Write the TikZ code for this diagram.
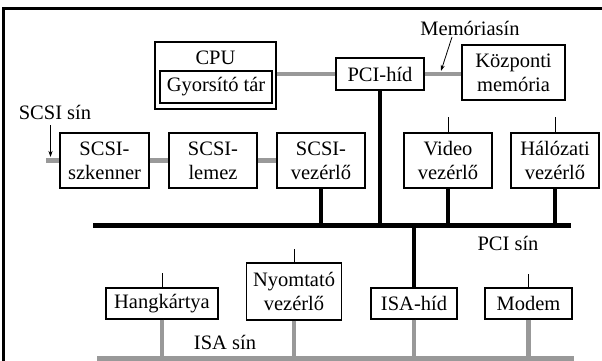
\documentclass[tikz,border=0pt]{standalone}
\usepackage{fontspec}
\setmainfont{Liberation Serif}
\usetikzlibrary{arrows.meta}
\begin{document}
\begin{tikzpicture}[x=1pt,y=-1pt,
  box/.style={draw, line width=1.1pt, inner sep=0pt, align=center, font=\fontsize{20.5}{24}\selectfont},
  lbl/.style={inner sep=0pt, font=\fontsize{20.5}{24}\selectfont},
  greybus/.style={line width=4.5pt, draw=black!40},
  blackbus/.style={line width=5pt},
  blackstub/.style={line width=4.5pt},
  stub/.style={line width=1pt},
  pointer/.style={line width=0.8pt, -{Stealth[length=6pt,width=4pt]}}]
\useasboundingbox (0,0) rectangle (602,361);
% frame
\draw[line width=3pt] (3.5,361) -- (3.5,8.5) -- (602,8.5);
% top row
\node[box, minimum width=121pt, minimum height=67pt] (cpu) at (215.5,75.5) {};
\node[lbl] (cpulbl) at (215.5,58) {CPU};
\node[box, minimum width=112pt, minimum height=32pt] (cache) at (216,87) {Gyorsító tár};
\node[box, minimum width=88pt, minimum height=32pt] (pcihid) at (380,74) {PCI-híd};
\node[box, minimum width=103pt, minimum height=55pt] (mem) at (513.5,72.5) {Központi\\memória};
\node[lbl] (memsin) at (470,28) {Memóriasín};
% second row
\node[box, minimum width=89pt, minimum height=55pt] (scsisz) at (104.5,160.5) {SCSI-\\szkenner};
\node[box, minimum width=88pt, minimum height=55pt] (scsil) at (213,160.5) {SCSI-\\lemez};
\node[box, minimum width=88pt, minimum height=55pt] (scsiv) at (321,160.5) {SCSI-\\vezérlő};
\node[box, minimum width=88pt, minimum height=55pt] (video) at (448,160.5) {Video\\vezérlő};
\node[box, minimum width=88pt, minimum height=55pt] (halo) at (555,160.5) {Hálózati\\vezérlő};
\node[lbl] (scsisin) at (55,112) {SCSI sín};
% third row
\node[box, minimum width=112pt, minimum height=31pt] (hang) at (162,303.5) {Hangkártya};
\node[box, minimum width=95pt, minimum height=57pt] (nyomt) at (294,291.5) {Nyomtató\\vezérlő};
\node[box, minimum width=86pt, minimum height=31pt] (isahid) at (414,303.5) {ISA-híd};
\node[box, minimum width=87pt, minimum height=31pt] (modem) at (528.5,303.5) {Modem};
\node[lbl] (pcisin) at (508,243) {PCI sín};
\node[lbl] (isasin) at (225,342) {ISA sín};
% bus coordinates
\coordinate (pciL) at (93,225);
\coordinate (pciR) at (571,225);
\coordinate (isaL) at (97,358.5);
\coordinate (isaR) at (574,358.5);
\coordinate (scsiend) at (46,160.5);
\coordinate (scsiarrS) at (50.5,125);
\coordinate (scsiarrE) at (50.5,157);
\coordinate (memarrS) at (452,37);
\coordinate (memarrE) at (441,71);
% grey buses
\draw[greybus] (pcihid.west) -- (pcihid.west -| cpu.east);
\draw[greybus] (pcihid.east) -- (pcihid.east -| mem.west);
\draw[greybus] (scsiend) -- (scsisz.west);
\draw[greybus] (scsisz.east) -- (scsil.west);
\draw[greybus] (scsil.east) -- (scsiv.west);
\draw[greybus] (isaL) -- (isaR);
\draw[greybus] (hang.south) -- (hang.south |- isaL);
\draw[greybus] (nyomt.south) -- (nyomt.south |- isaL);
\draw[greybus] (isahid.south) -- (isahid.south |- isaL);
\draw[greybus] (modem.south) -- (modem.south |- isaL);
% PCI bus
\draw[blackbus] (pciL) -- (pciR);
\draw[blackstub] (scsiv.south) -- (scsiv.south |- pciL);
\draw[blackstub] (pcihid.south) -- (pcihid.south |- pciL);
\draw[blackstub] (video.south) -- (video.south |- pciL);
\draw[blackstub] (halo.south) -- (halo.south |- pciL);
\draw[blackstub] (isahid.north |- pciL) -- (isahid.north);
% thin stubs
\draw[stub] (video.north) -- ++(0,-15);
\draw[stub] (halo.north) -- ++(0,-15);
\draw[stub] (hang.north) -- ++(0,-14);
\draw[stub] (nyomt.north) -- ++(0,-13);
\draw[stub] (modem.north) -- ++(0,-13);
% pointers
\draw[pointer] (scsiarrS) -- (scsiarrE);
\draw[pointer] (memarrS) -- (memarrE);
\end{tikzpicture}
\end{document}
